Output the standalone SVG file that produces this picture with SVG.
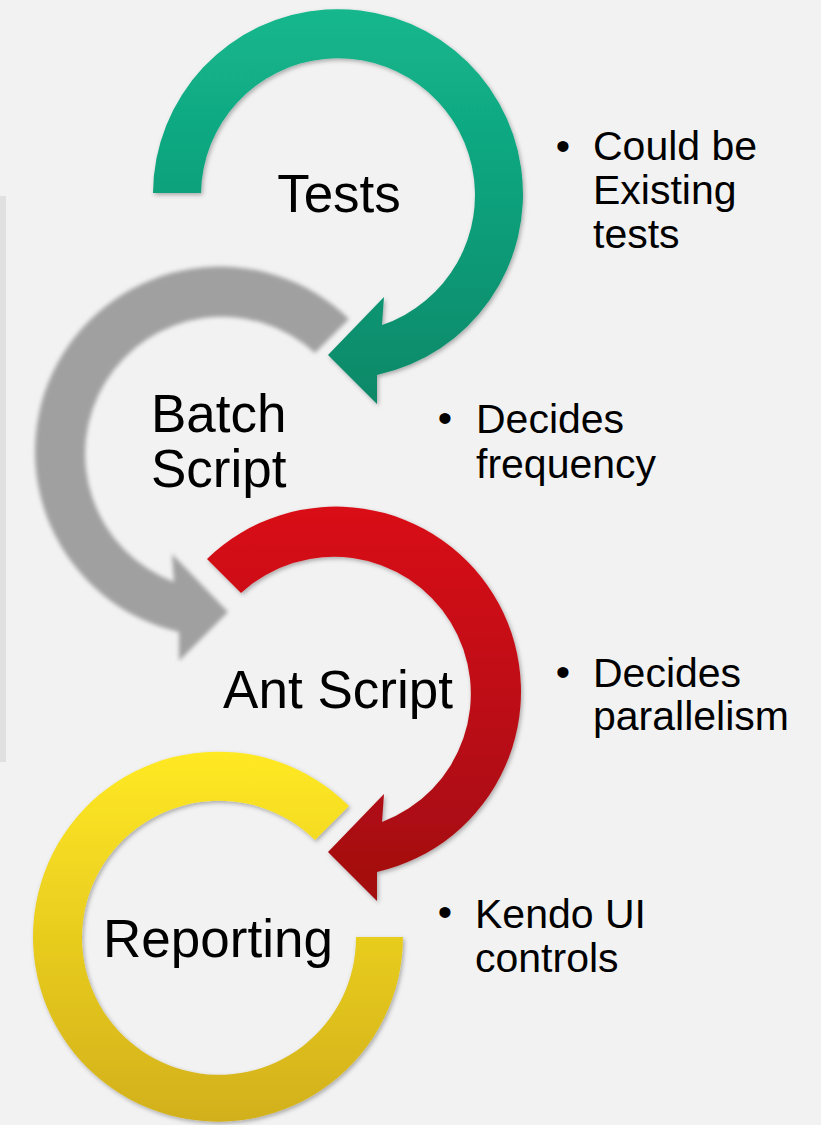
<svg xmlns="http://www.w3.org/2000/svg" width="821" height="1125" viewBox="0 0 821 1125">
<defs>
<linearGradient id="gGreen" x1="0" y1="0" x2="0" y2="1"><stop offset="0" stop-color="#13b78d"/><stop offset="1" stop-color="#0c8868"/></linearGradient>
<linearGradient id="gRed" x1="0" y1="0" x2="0" y2="1"><stop offset="0" stop-color="#d91119"/><stop offset="1" stop-color="#a10b10"/></linearGradient>
<linearGradient id="gYellow" x1="0" y1="0" x2="0" y2="1"><stop offset="0" stop-color="#ffe923"/><stop offset="1" stop-color="#d2b01b"/></linearGradient>
<filter id="shadow" x="-10%" y="-10%" width="120%" height="120%"><feDropShadow dx="1.5" dy="2" stdDeviation="2" flood-color="#000" flood-opacity="0.3"/></filter>
<filter id="blur" x="-10%" y="-10%" width="120%" height="120%"><feGaussianBlur stdDeviation="2.2"/></filter>
</defs>
<style>
.label{font-family:"Liberation Sans",Arial,sans-serif;font-size:53px;fill:#000}
.bul{font-family:"Liberation Sans",Arial,sans-serif;font-size:41px;fill:#000}
</style>
<rect x="0" y="0" width="821" height="1125" fill="#f2f2f2"/>
<rect x="0" y="196" width="6" height="566" fill="#e0e0e0"/>

<g id="batch-script">
<path d="M349,319 A185,185 0 1 0 179,632 L179,661 L228,612 L172,554 L174,582 A137,137 0 1 1 315,353 Z" fill="#a0a0a0" filter="url(#blur)"/>
<text class="label" x="151" y="432">Batch</text>
<text class="label" x="151" y="487">Script</text>
</g>

<g id="tests">
<path d="M153,193 A185,185 0 1 1 377,375 L377,404 L328,355 L384,297 L382,325 A137,137 0 1 0 201,193 Z" fill="url(#gGreen)" filter="url(#shadow)"/>
<text class="label" x="339" y="212" text-anchor="middle">Tests</text>
</g>

<g id="reporting">
<path d="M349,806 A185,185 0 1 0 403,937 L356,937 A137,137 0 1 1 315,840 Z" fill="url(#gYellow)" filter="url(#shadow)"/>
<text class="label" x="218" y="957" text-anchor="middle">Reporting</text>
</g>

<g id="ant-script">
<path d="M207,559 A185,185 0 1 1 377,872 L377,901 L328,852 L384,794 L382,822 A137,137 0 1 0 241,593 Z" fill="url(#gRed)" filter="url(#shadow)"/>
<text class="label" x="338" y="708" text-anchor="middle">Ant Script</text>
</g>

<g id="note-tests">
<text class="bul" x="563" y="160" text-anchor="middle">•</text>
<text class="bul" x="593" y="160">Could be</text>
<text class="bul" x="593" y="204">Existing</text>
<text class="bul" x="593" y="248">tests</text>
</g>
<g id="note-batch">
<text class="bul" x="445" y="432" text-anchor="middle">•</text>
<text class="bul" x="476" y="433">Decides</text>
<text class="bul" x="476" y="478">frequency</text>
</g>
<g id="note-ant">
<text class="bul" x="563" y="686" text-anchor="middle">•</text>
<text class="bul" x="593" y="687">Decides</text>
<text class="bul" x="593" y="730">parallelism</text>
</g>
<g id="note-reporting">
<text class="bul" x="445" y="926" text-anchor="middle">•</text>
<text class="bul" x="475" y="928">Kendo UI</text>
<text class="bul" x="475" y="972">controls</text>
</g>
</svg>
